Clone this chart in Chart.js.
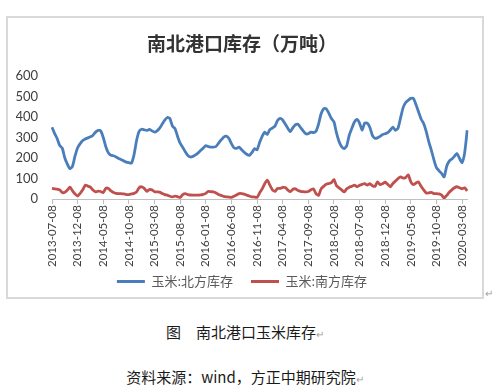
<!DOCTYPE html>
<html>
<head>
<meta charset="utf-8">
<script src="https://cdn.jsdelivr.net/npm/chart.js@4.4.1/dist/chart.umd.min.js"></script>
<style>
  html, body { margin: 0; padding: 0; background: #ffffff; }
  body { width: 500px; height: 385px; position: relative; overflow: hidden; font-family: "Noto Sans CJK SC", sans-serif; }
  #frame { position: absolute; left: 6px; top: 16px; width: 478px; height: 283px; border: 2px solid #d9d9d9; box-sizing: border-box; }
  #wrap { position: absolute; left: 8px; top: 0; width: 466px; height: 283px; }
  .cap { position: absolute; left: 0; width: 490px; text-align: center; color: #1a1a1a; font-size: 15px; white-space: nowrap; }
  .ret { color: #a0a0a0; font-size: 10px; }
  #mark { position: absolute; left: 485px; top: 285px; color: #a0a0a0; font-size: 10px; }
</style>
</head>
<body>
<div id="frame"><div id="wrap"><canvas id="c" width="466" height="283"></canvas></div></div>
<div id="mark">↵</div>
<div class="cap" style="top:321px;">图　南北港口玉米库存<span class="ret">↵</span></div>
<div class="cap" style="top:366px;">资料来源：wind，方正中期研究院<span class="ret">↵</span></div>
<script>
const titleText = '南北港口库存（万吨）';
const seriesNames = ['玉米:北方库存', '玉米:南方库存'];
const tickLabels = ['2013-07-08','2013-12-08','2014-05-08','2014-10-08','2015-03-08','2015-08-08','2016-01-08','2016-06-08','2016-11-08','2017-04-08','2017-09-08','2018-02-08','2018-07-08','2018-12-08','2019-05-08','2019-10-08','2020-03-08'];
const yTicks = [0, 100, 200, 300, 400, 500, 600];

// half-monthly readings
const north = [350,320,295,261,248,200,170,148,160,210,250,270,285,293,298,303,311,326,334,332,
300,255,225,213,211,205,198,192,186,180,177,175,215,285,330,340,337,334,339,332,
326,332,345,365,384,397,392,355,343,305,272,252,230,212,205,208,215,225,237,248,
260,255,253,253,256,272,288,302,306,296,270,250,247,253,240,228,218,213,226,245,
240,275,305,326,315,338,346,355,382,393,385,365,345,328,348,362,364,348,332,318,
318,326,324,330,365,415,440,440,418,392,376,322,280,255,246,260,312,345,375,388,
370,335,370,370,350,310,296,298,305,314,318,323,336,350,335,345,395,445,470,481,
490,490,460,425,390,368,330,280,238,192,153,138,125,108,160,185,195,208,222,198,
178,225,335];
const south = [52,50,48,45,32,33,44,58,40,25,15,28,45,68,63,58,44,35,39,37,
32,52,52,40,32,28,27,27,25,22,22,25,28,35,55,60,52,38,46,45,
36,35,34,27,22,19,14,11,14,12,8,22,27,22,20,19,19,19,20,23,
28,38,36,35,30,22,18,13,11,10,8,14,20,27,27,24,19,15,11,10,
8,30,50,75,92,68,45,38,52,52,57,56,44,36,48,50,42,38,36,35,
37,45,50,27,18,50,62,72,76,80,95,65,55,45,35,50,58,62,68,60,
67,72,75,68,75,65,62,84,70,75,82,72,60,76,88,100,108,102,105,118,
84,70,78,84,62,45,30,30,33,27,27,25,20,5,18,33,45,55,60,55,
50,55,40];

const labels = north.map((_, i) => (i % 10 === 0 && tickLabels[i / 10]) ? tickLabels[i / 10] : '');
const blue = '#4a7ebb';
const red = '#c0504d';

new Chart(document.getElementById('c'), {
  type: 'line',
  data: {
    labels: labels,
    datasets: [
      { label: seriesNames[0], data: north, borderColor: blue, backgroundColor: blue, borderWidth: 2.8, pointRadius: 0, tension: 0.2, fill: false },
      { label: seriesNames[1], data: south, borderColor: red, backgroundColor: red, borderWidth: 2.8, pointRadius: 0, tension: 0.2, fill: false }
    ]
  },
  options: {
    responsive: false,
    animation: false,
    devicePixelRatio: 1,
    layout: { padding: { left: 0, right: 14, top: 0, bottom: 3 } },
    plugins: {
      title: {
        display: true, text: titleText, color: '#333333',
        font: { family: '"Noto Sans CJK SC", sans-serif', size: 19, weight: 'bold' },
        padding: { top: 14, bottom: 21 }
      },
      legend: {
        position: 'bottom',
        labels: {
          color: '#595959',
          font: { family: '"Noto Sans CJK SC", sans-serif', size: 13 },
          boxWidth: 28, boxHeight: 3, padding: 18,
          generateLabels: (chart) => chart.data.datasets.map((d, i) => ({
            text: d.label, fillStyle: d.borderColor, strokeStyle: d.borderColor, lineWidth: 0, datasetIndex: i, fontColor: '#595959'
          }))
        }
      },
      tooltip: { enabled: false }
    },
    scales: {
      x: {
        type: 'category',
        afterFit: (s) => { s.height = s.height - 11; s._computeLabelArea = () => undefined; },
        grid: {
          drawOnChartArea: false, drawTicks: true, tickLength: 5,
          color: (ctx) => (ctx.index % 10 === 0 ? '#bfbfbf' : 'rgba(0,0,0,0)')
        },
        border: { display: true, color: '#bfbfbf', width: 1 },
        ticks: {
          autoSkip: false, minRotation: 90, maxRotation: 90, padding: 1,
          color: '#404040', font: { family: 'Lato, sans-serif', size: 11.5 }
        }
      },
      y: {
        min: 0, max: 600,
        afterBuildTicks: (s) => { s.ticks = yTicks.map(v => ({ value: v })); },
        afterFit: (s) => { s.width = 36; },
        grid: { display: false },
        border: { display: false },
        ticks: { padding: 6, color: '#404040', font: { family: 'Lato, sans-serif', size: 13 } }
      }
    }
  }
});
</script>
</body>
</html>
